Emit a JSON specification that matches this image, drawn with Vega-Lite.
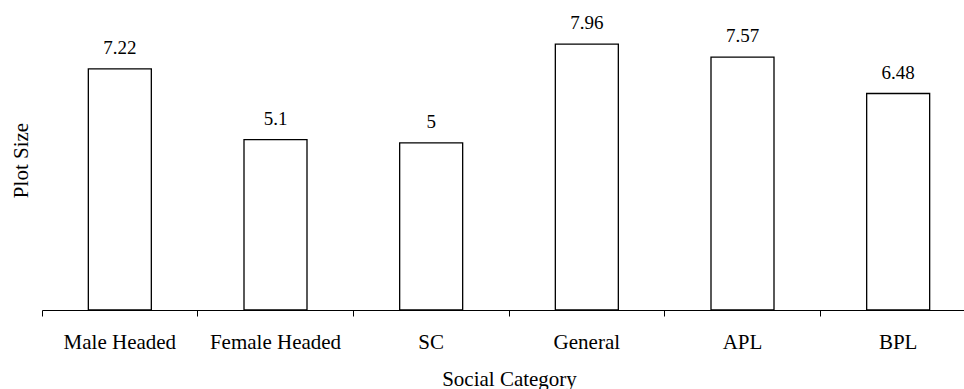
{
  "$schema": "https://vega.github.io/schema/vega-lite/v6.json",
  "autosize": {"type": "none"},
  "width": 922,
  "height": 300,
  "padding": {"left": 42, "top": 10, "right": 0, "bottom": 79},
  "background": "white",
  "config": {
    "view": {"stroke": null},
    "font": "Times New Roman, Liberation Serif, serif",
    "axis": {"labelFont": "Times New Roman, Liberation Serif, serif", "titleFont": "Times New Roman, Liberation Serif, serif", "labelColor": "black", "titleColor": "black", "titleFontWeight": "normal", "domainColor": "black", "tickColor": "black"}
  },
  "data": {
    "values": [
      {"category": "Male Headed", "size": 7.22, "label": "7.22"},
      {"category": "Female Headed", "size": 5.1, "label": "5.1"},
      {"category": "SC", "size": 5, "label": "5"},
      {"category": "General", "size": 7.96, "label": "7.96"},
      {"category": "APL", "size": 7.57, "label": "7.57"},
      {"category": "BPL", "size": 6.48, "label": "6.48"}
    ]
  },
  "encoding": {
    "x": {
      "field": "category",
      "type": "nominal",
      "sort": null,
      "scale": {"range": [0, 934], "paddingInner": 0, "paddingOuter": 0},
      "axis": {
        "title": "Social Category",
        "titleFontSize": 21,
        "titleX": 467,
        "titlePadding": 16,
        "labelFontSize": 21,
        "labelAngle": 0,
        "bandPosition": 0,
        "tickSize": 6,
        "labelPadding": 15,
        "domainWidth": 1,
        "tickWidth": 1
      }
    },
    "y": {
      "field": "size",
      "type": "quantitative",
      "scale": {"domain": [0, 8.98], "nice": false, "zero": true},
      "axis": {
        "title": "Plot Size",
        "titleFontSize": 21,
        "titlePadding": 11,
        "domain": false,
        "ticks": false,
        "labels": false,
        "grid": false
      }
    }
  },
  "layer": [
    {
      "mark": {"type": "bar", "size": 63, "fill": "white", "stroke": "black", "strokeWidth": 1.3}
    },
    {
      "mark": {"type": "text", "baseline": "alphabetic", "dy": -15, "fontSize": 19, "font": "Times New Roman, Liberation Serif, serif", "color": "black"},
      "encoding": {"text": {"field": "label"}}
    }
  ]
}
